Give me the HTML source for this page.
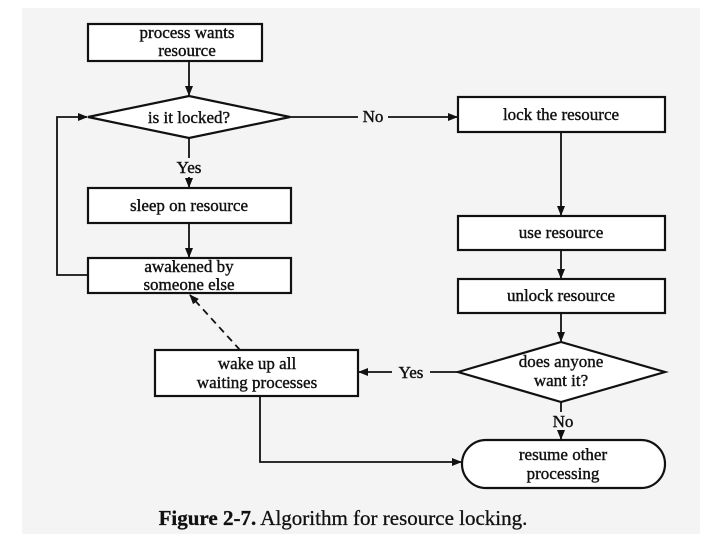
<!DOCTYPE html>
<html><head><meta charset="utf-8"><style>
html,body{margin:0;padding:0;background:#fff;}
svg{display:block;}
text{font-family:"Liberation Serif",serif;font-size:17px;fill:#111;text-anchor:middle;stroke:#111;stroke-width:0.4;}
</style></head><body>
<svg width="720" height="540" viewBox="0 0 720 540" xmlns="http://www.w3.org/2000/svg">
<defs><marker id="a" markerWidth="10" markerHeight="8" refX="9" refY="4" orient="auto" markerUnits="userSpaceOnUse"><path d="M0,0 L10,4 L0,8 z" fill="#111"/></marker></defs>
<rect x="22" y="8" width="678" height="526" fill="#f4f4f4"/>
<g stroke="#111" stroke-width="2.2" fill="#fff">
<rect x="88" y="24" width="174" height="37"/>
<polygon points="88,117 189,96 290,117 189,138"/>
<rect x="458" y="97" width="207" height="35"/>
<rect x="88" y="188" width="203" height="35"/>
<rect x="88" y="258" width="203" height="35"/>
<rect x="458" y="216" width="207" height="34"/>
<rect x="458" y="279" width="207" height="34"/>
<polygon points="458,372 561,342 665,372 561,402"/>
<rect x="155" y="350" width="203" height="46"/>
<rect x="462" y="440" width="203" height="48" rx="24"/>
</g>
<g stroke="#111" stroke-width="1.8" fill="none">
<line x1="189" y1="61" x2="189" y2="95" marker-end="url(#a)"/>
<line x1="290" y1="117" x2="358" y2="117"/>
<line x1="388" y1="117" x2="457" y2="117" marker-end="url(#a)"/>
<line x1="189" y1="138" x2="189" y2="158"/>
<line x1="189" y1="177" x2="189" y2="187" marker-end="url(#a)"/>
<line x1="189" y1="223" x2="189" y2="257" marker-end="url(#a)"/>
<polyline points="88,275 57,275 57,117 87,117" marker-end="url(#a)"/>
<line x1="561" y1="132" x2="561" y2="215" marker-end="url(#a)"/>
<line x1="561" y1="250" x2="561" y2="278" marker-end="url(#a)"/>
<line x1="561" y1="313" x2="561" y2="341" marker-end="url(#a)"/>
<line x1="458" y1="372" x2="430" y2="372"/>
<line x1="392" y1="372" x2="359" y2="372" marker-end="url(#a)"/>
<line x1="240" y1="350" x2="190" y2="295" stroke-dasharray="7,5" marker-end="url(#a)"/>
<line x1="561" y1="402" x2="561" y2="412"/>
<line x1="561" y1="430" x2="561" y2="439" marker-end="url(#a)"/>
<polyline points="260,396 260,462 461,462" marker-end="url(#a)"/>
</g>
<text x="187" y="38">process wants</text>
<text x="187" y="56">resource</text>
<text x="189" y="123">is it locked?</text>
<text x="373" y="122">No</text>
<text x="561" y="120">lock the resource</text>
<text x="189" y="173">Yes</text>
<text x="189" y="211">sleep on resource</text>
<text x="189" y="272">awakened by</text>
<text x="189" y="290">someone else</text>
<text x="561" y="238">use resource</text>
<text x="561" y="301">unlock resource</text>
<text x="561" y="367">does anyone</text>
<text x="561" y="386">want it?</text>
<text x="411" y="378">Yes</text>
<text x="257" y="369">wake up all</text>
<text x="257" y="388">waiting processes</text>
<text x="563" y="427">No</text>
<text x="563" y="460">resume other</text>
<text x="563" y="479">processing</text>
<text x="343" y="525" style="font-size:21px;stroke-width:0.3"><tspan font-weight="bold">Figure 2-7.</tspan> Algorithm for resource locking.</text>
</svg>
</body></html>
